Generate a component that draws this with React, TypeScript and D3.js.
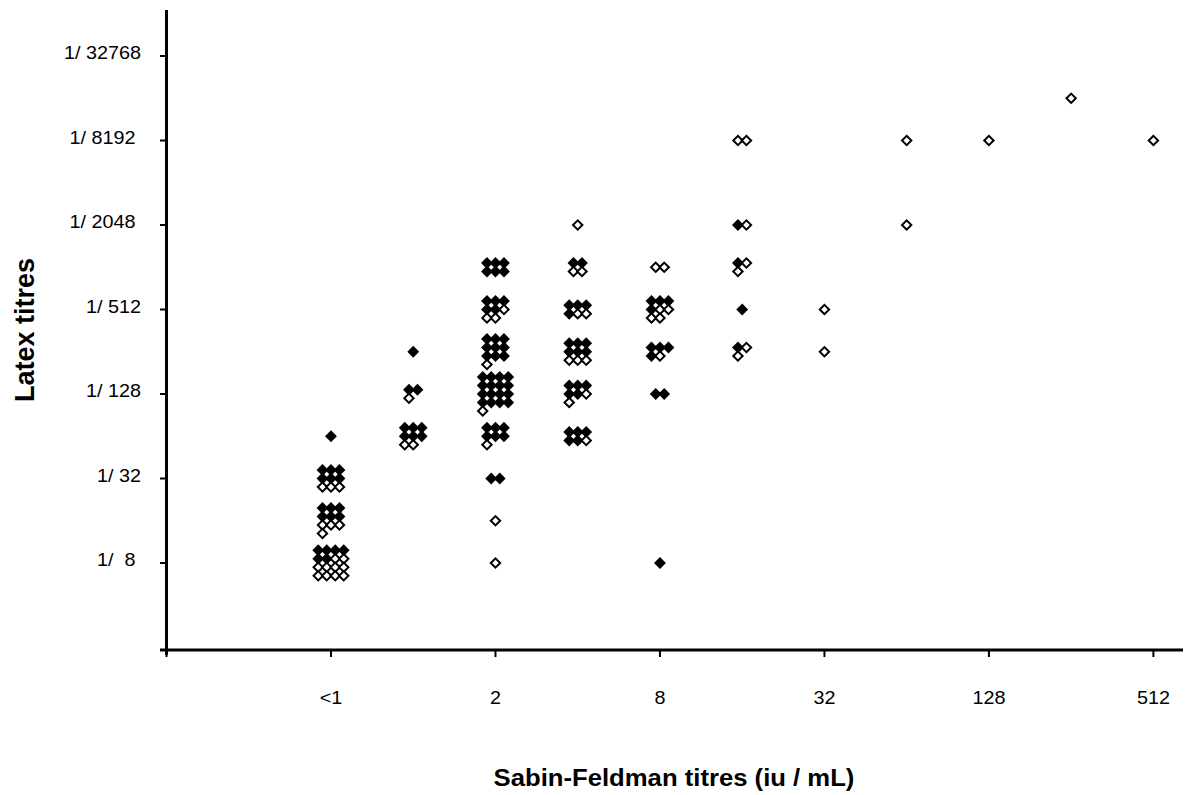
import React from 'react';
import * as d3 from 'd3';

const W = 1189;
const H = 795;

// Axis ticks
const xTickValues = [0.125, 0.5, 2, 8, 32, 128, 512];
const xTickLabels = ['', '<1', '2', '8', '32', '128', '512'];
const yTickValues = [8, 32, 128, 512, 2048, 8192, 32768];
const yTickLabels = ['1/  8 ', '1/ 32', '1/ 128', '1/ 512', '1/ 2048 ', '1/ 8192 ', '1/ 32768'];

// Observations grouped per (Sabin-Feldman titre, Latex titre) cell.
// "<1" is plotted at 0.5; latex titre stored as its denominator.
const sabinTitre = [0.5, 0.5, 0.5, 0.5, 1, 1, 1, 2, 2, 2, 2, 2, 2, 2, 2, 4, 4, 4, 4, 4, 4, 8, 8, 8, 8, 8, 16, 16, 16, 16, 16, 32, 32, 64, 64, 128, 256, 512];
const latexTitre = [64, 32, 16, 8, 256, 128, 64, 1024, 512, 256, 128, 64, 32, 16, 8, 2048, 1024, 512, 256, 128, 64, 1024, 512, 256, 128, 8, 8192, 2048, 1024, 512, 256, 512, 256, 8192, 2048, 8192, 16384, 8192];
const nFilled = [1, 6, 6, 6, 1, 2, 6, 6, 5, 9, 16, 6, 2, 0, 0, 0, 2, 4, 6, 5, 5, 0, 4, 4, 2, 1, 0, 1, 1, 1, 1, 0, 0, 0, 0, 0, 0, 0];
const nOpen = [0, 3, 4, 10, 0, 1, 2, 0, 3, 1, 1, 1, 0, 1, 1, 1, 2, 2, 3, 2, 1, 2, 4, 1, 0, 0, 2, 1, 2, 0, 2, 1, 1, 1, 1, 1, 1, 1];

type Pt = { x: number; y: number; filled: boolean };

export default function App() {
  const x = d3.scaleLog().base(2).domain([0.125, 657]).range([166.5, 1183]);
  const y = d3.scaleLog().base(2).domain([2, 65536]).range([647.5, 13.75]);

  const step = 8.5;
  const pts: Pt[] = [];
  sabinTitre.forEach((s, k) => {
    const f = nFilled[k];
    const o = nOpen[k];
    const n = f + o;
    const cols = n <= 2 ? n : n <= 4 ? 2 : n <= 12 ? 3 : 4;
    const rows = Math.ceil(n / cols);
    const cx = x(s);
    const cy = y(latexTitre[k]);
    for (let i = 0; i < n; i++) {
      const c = i % cols;
      const r = Math.floor(i / cols);
      pts.push({
        x: cx + (c - (cols - 1) / 2) * step,
        y: cy + (r - (rows - 1) / 2) * step,
        filled: i < f,
      });
    }
  });

  const filledPath = d3.symbol(d3.symbolSquare, 70)()!;
  const openPath = d3.symbol(d3.symbolSquare, 44)()!;

  const axisX = 166.5;
  const axisY = 650;
  const font = 'Arial, "Liberation Sans", sans-serif';

  return (
    <svg width={W} height={H} style={{ position: 'absolute', left: 0, top: 0, background: '#fff' }}>
      <rect x={0} y={0} width={W} height={H} fill="#fff" />
      {/* axes */}
      <line x1={axisX} x2={axisX} y1={10} y2={655} stroke="#000" strokeWidth={3} />
      <line x1={160} x2={1183} y1={axisY} y2={axisY} stroke="#000" strokeWidth={3} />
      {yTickValues.map((v, i) => (
        <g key={'yt' + i}>
          <line x1={160} x2={axisX} y1={y(v)} y2={y(v)} stroke="#000" strokeWidth={2} />
          <g transform={`translate(141,${y(v) + 3}) scale(1.1,1)`}>
            <text
              x={0}
              y={0}
              textAnchor="end"
              fontFamily={font}
              fontSize={18}
              style={{ whiteSpace: 'pre' }}
            >
              {yTickLabels[i]}
            </text>
          </g>
        </g>
      ))}
      {xTickValues.map((v, i) => (
        <g key={'xt' + i}>
          <line x1={x(v)} x2={x(v)} y1={axisY} y2={axisY + 7} stroke="#000" strokeWidth={2} />
          <g transform={`translate(${x(v)},704) scale(1.1,1)`}>
            <text x={0} y={0} textAnchor="middle" fontFamily={font} fontSize={18}>
              {xTickLabels[i]}
            </text>
          </g>
        </g>
      ))}
      {/* axis titles */}
      <text
        transform={`translate(34,330) rotate(-90)`}
        textAnchor="middle"
        fontFamily={font}
        fontWeight="bold"
        fontSize={27}
      >
        Latex titres
      </text>
      <g transform="translate(674,786) scale(1.07,1)">
        <text x={0} y={0} textAnchor="middle" fontFamily={font} fontWeight="bold" fontSize={24}>
          Sabin-Feldman titres (iu / mL)
        </text>
      </g>
      {/* markers */}
      {pts.filter(p => p.filled).map((p, i) => (
        <path key={'f' + i} d={filledPath} transform={`translate(${p.x},${p.y}) rotate(45)`} fill="#000" />
      ))}
      {pts.filter(p => !p.filled).map((p, i) => (
        <path
          key={'o' + i}
          d={openPath}
          transform={`translate(${p.x},${p.y}) rotate(45)`}
          fill="#fff"
          stroke="#000"
          strokeWidth={2}
        />
      ))}
    </svg>
  );
}
